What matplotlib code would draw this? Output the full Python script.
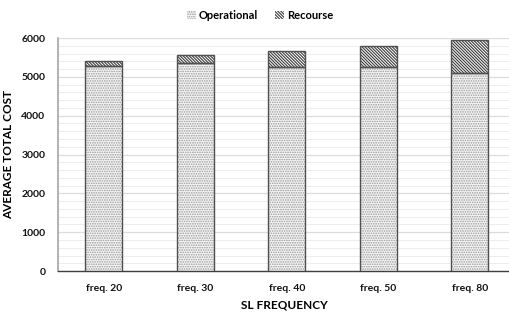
import numpy as np
import matplotlib
matplotlib.use('Agg')
import matplotlib.pyplot as plt
from matplotlib.ticker import MultipleLocator

plt.rcParams['font.family'] = ['Lato', 'DejaVu Sans']
plt.rcParams['font.weight'] = 'bold'
plt.rcParams['axes.labelweight'] = 'bold'
plt.rcParams['hatch.linewidth'] = 0.8

categories = ['freq. 20', 'freq. 30', 'freq. 40', 'freq. 50', 'freq. 80']
operational = [5290, 5360, 5260, 5260, 5100]
recourse = [120, 200, 410, 530, 860]

fig = plt.figure(figsize=(5.1, 3.17), dpi=100)
ax = fig.add_axes([0.1137, 0.145, 0.8863, 0.735])

x = np.arange(len(categories))
# hatched fills (hatch colour follows the edge colour), outlines drawn after
ax.bar(x, operational, width=0.4, color='#f6f6f6', edgecolor='#999999',
       hatch='.' * 7, linewidth=0, label='Operational', zorder=3)
ax.bar(x, recourse, width=0.4, bottom=operational, color='#ffffff',
       edgecolor='#3a3a3a', hatch='\\' * 11, linewidth=0,
       label='Recourse', zorder=3)
ax.bar(x, operational, width=0.4, fill=False, edgecolor='#505050',
       linewidth=1.0, zorder=4)
ax.bar(x, recourse, width=0.4, bottom=operational, fill=False,
       edgecolor='#505050', linewidth=1.0, zorder=4)

ax.set_ylim(0, 6000)
ax.set_xlim(-0.5, 4.44)
ax.yaxis.set_major_locator(MultipleLocator(1000))
ax.yaxis.set_minor_locator(MultipleLocator(200))
ax.grid(axis='y', which='major', color='#dcdcdc', linewidth=0.9, zorder=0)
ax.grid(axis='y', which='minor', color='#ededed', linewidth=0.7, zorder=0)
ax.set_axisbelow(True)

ax.set_xticks(x)
ax.set_xticklabels(categories)
ax.tick_params(axis='both', which='both', length=0, labelsize=7.5,
               colors='#111111')
ax.tick_params(axis='x', pad=9)
ax.tick_params(axis='y', pad=9)

for s in ['top', 'right']:
    ax.spines[s].set_visible(False)
ax.spines['left'].set_color('#a6a6a6')
ax.spines['left'].set_linewidth(1.2)
ax.spines['bottom'].set_color('#404040')
ax.spines['bottom'].set_linewidth(1.0)

ax.set_xlabel('SL FREQUENCY', fontsize=8.5, labelpad=5)
ax.set_ylabel('AVERAGE TOTAL COST', fontsize=8.5, labelpad=5)

fig.legend(loc='upper center', bbox_to_anchor=(0.51, 1.0), ncol=2,
           frameon=False, fontsize=8, handlelength=0.8, handleheight=0.8,
           handletextpad=0.3, columnspacing=1.5)

fig.savefig('out.png', dpi=100)
